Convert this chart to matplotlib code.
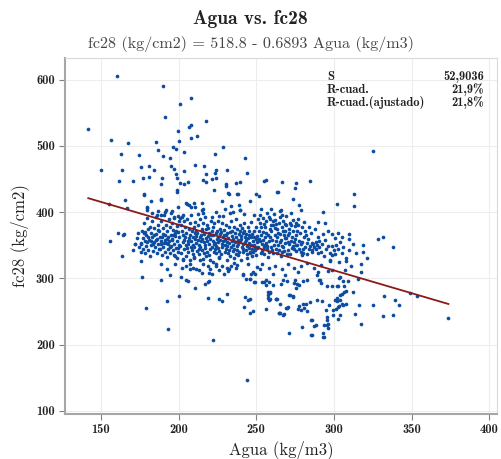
import matplotlib.pyplot as plt
import numpy as np

plt.rcParams['font.family'] = ['cmr10', 'DejaVu Serif']
plt.rcParams['axes.unicode_minus'] = False
plt.rcParams['axes.formatter.use_mathtext'] = False

# coeficientes del ajuste y estadisticos mostrados
intercept = 518.8
slope = -0.6893
stat_names = ['S', 'R-cuad.', 'R-cuad.(ajustado)']
stat_values = ['52,9036', '21,9%', '21,8%']

# puntos (Agua, fc28)
upper_pts = [(141.9, 525), (160.3, 606), (190, 590), (208.3, 573), (200.8, 564), (191.2, 543), (217.5, 538),
             (208.3, 531), (206.8, 528), (199.8, 522), (156.4, 509), (167.3, 504), (207.9, 512), (211.7, 515),
             (200.6, 508), (185.7, 506), (196.5, 499), (228.4, 498), (186.7, 494), (198.5, 495), (203.6, 491),
             (163, 487), (174.4, 486), (190, 485), (223.7, 488), (194.2, 481), (243, 481), (150.4, 463),
             (163.7, 464), (176, 468), (181.2, 469), (184, 463), (195, 469), (197.4, 465), (203.6, 462),
             (210.7, 471), (216.7, 470), (223.8, 463), (223.3, 459), (231, 464), (243.8, 459), (161.7, 447),
             (170.9, 447), (177, 451), (180.8, 453), (189.3, 452), (188.7, 443), (198.5, 457), (198.9, 451),
             (200.8, 444), (203.2, 442), (205.8, 445), (217.9, 457), (216, 448), (217.5, 446), (221.5, 450),
             (224, 452), (222.6, 434), (230.8, 440), (236.7, 444), (254.7, 447), (256, 449), (177.6, 427),
             (198.7, 430), (198.9, 434), (232.2, 427), (237.6, 427), (249.6, 428), (252, 424), (263.6, 430),
             (165.6, 418), (188.5, 419), (245.7, 417), (155.3, 412), (166.7, 406), (179.7, 406), (199.8, 408),
             (204.7, 414), (207.9, 408), (210.4, 407), (215.4, 403), (212.8, 397), (224.4, 400), (226, 394),
             (233.5, 409), (235, 400), (239.5, 403), (242, 397), (248.5, 395), (253.4, 405), (256.9, 399),
             (259.4, 405), (265.4, 402), (230.7, 442), (239.7, 446), (177.7, 426), (232, 429), (238.6, 428),
             (182, 416), (188.6, 420), (205.5, 412), (207, 410), (209.8, 414), (215.1, 413), (215.5, 405),
             (215.7, 399), (228, 417), (230, 404), (233, 398), (238.7, 411), (239.7, 403), (179.4, 408),
             (180, 403), (183, 398), (186, 396), (188.4, 395), (191, 400), (195, 398), (197, 393), (199.5, 394),
             (201, 391), (203, 396), (187, 402), (192, 403), (196, 402)]

right_pts = [(325.5, 492), (266.5, 445), (275.6, 444), (284.6, 447), (275, 437), (264, 430), (313.2, 428),
             (273.9, 420), (277.3, 411), (278.8, 403), (302, 412), (313.2, 409), (266, 403), (266.4, 396),
             (293, 400), (290, 385), (294.4, 384), (275.6, 383), (268.4, 382), (272.6, 380), (262.8, 382),
             (259, 390), (302.8, 368), (309.6, 367), (298.5, 367), (305.5, 362), (309.6, 359), (318.8, 350),
             (328.4, 359), (331.6, 363), (337.8, 348), (317.3, 322), (317.3, 309), (308.1, 326), (332.2, 273),
             (339.3, 267), (341.9, 260), (349, 278), (353.4, 273), (373.7, 240.5), (317.3, 231.5), (331.4, 243),
             (338.2, 244), (325, 260), (316, 260), (313.9, 246.5), (312.2, 280), (315.4, 299), (302.6, 345),
             (305, 338), (308, 331), (310, 342), (312, 352), (304, 355), (306, 348), (301, 336), (314, 338),
             (311, 318), (303, 325), (307, 312), (319, 340), (321, 330), (304, 302), (309, 296), (302, 288)]

left_pts = [(161, 369), (165, 367), (164.5, 365), (155.8, 356), (163.5, 334), (175.6, 326), (176.5, 302),
            (179, 254.5), (172.2, 351.5), (174.7, 347.5), (175.8, 353), (176, 340), (174, 368), (173, 361),
            (170.5, 342), (171.8, 352)]

low_pts = [(271.2, 217), (285.4, 215), (293, 217), (293.4, 211), (279.3, 227), (287.2, 228.4), (285.3, 237.4),
           (295.7, 237.4), (295.3, 230), (299.7, 245), (302.6, 238.4), (304, 245), (299.4, 251.5), (301.3, 253.5),
           (302.6, 256), (303, 258), (306, 259.6), (307.7, 260.6), (304, 266.7), (302.3, 265.6), (297, 259),
           (292.3, 266.2), (289, 266.7), (284.6, 264), (279, 252), (281, 255), (283, 250), (277, 254),
           (265.4, 247.5), (268, 246), (269.7, 255), (256.4, 254), (258.5, 267.7), (257.9, 269.7), (263, 269),
           (265.6, 260.6), (273.7, 272.7), (271.6, 274.7), (277.3, 257.6), (279.9, 261.7), (282.2, 261.7),
           (255.3, 294.4), (258.3, 294.4), (257.4, 279.3), (266, 292), (267.5, 297), (269.7, 295.5), (274.5, 293),
           (276, 291), (277.7, 290.5), (275, 297), (280.3, 296), (282.8, 297), (291, 297), (292, 293),
           (295.3, 288), (298.5, 288), (302.8, 288), (306.4, 288), (306, 296), (303, 300.5), (299, 312),
           (296, 311.7), (297.4, 325.7), (290.3, 297), (288.9, 304.5), (290, 309.5), (285.8, 214.8),
           (292.7, 211.3), (286, 236.8), (288.2, 229.3), (293.5, 229.3), (296, 230.3), (296, 224.3),
           (295.1, 252.8), (295.5, 241.7), (264.9, 247.7), (267.5, 245), (269.2, 255.3), (270.2, 256.8),
           (262.6, 269.3), (258.9, 278), (259.2, 269.3), (271.4, 274.3), (274, 271.8), (275.3, 286),
           (300.8, 266.8), (301.9, 270.3), (303.8, 274.3), (305, 276.8), (306.5, 279.4), (307.7, 280.4),
           (305, 261.8), (263.3, 268.7), (264.7, 247.5), (257.7, 275.3), (259, 279.3), (256.6, 289.4),
           (260.8, 289.4), (254, 294.4), (256.6, 297), (250.6, 317), (252.2, 313.8), (248.9, 295), (246.3, 299.5),
           (253.5, 322), (258, 316), (262, 319), (266.5, 314), (270.5, 321), (274.5, 316), (279, 319),
           (283, 323), (287, 315), (292, 320), (261, 307), (268.5, 305), (277, 310)]

mid_pts = [(242, 256.6), (245.7, 248), (247.8, 250), (244.6, 266.7), (245.7, 269.3), (243, 271), (219, 270),
           (225.8, 268), (227.7, 265.7), (231, 275.8), (210.7, 286), (216.9, 292), (219, 294.4), (219.6, 296),
           (201.9, 302.6), (205, 298), (206.2, 295.5), (194.6, 305.6), (189, 322), (192.3, 314.7), (188.8, 297),
           (192.7, 265), (200, 274), (193, 222.7), (222.2, 207), (243.8, 146.5), (241.4, 307), (249.5, 307),
           (237.6, 319.7), (232.2, 314.6), (229, 307), (221.6, 307), (219.4, 308.6), (214.9, 308.6), (211, 313.6),
           (207.2, 314.6), (202.4, 316), (207.7, 322.3), (223.8, 319), (231.2, 316.3), (197, 334.8),
           (241.4, 305.7), (243.6, 298.6), (246, 298.6), (246.6, 307), (247.7, 310), (244.4, 321), (249.3, 294.6),
           (210, 332), (214, 328), (218, 333), (222, 325), (226, 330), (216, 322), (219, 318), (224, 321),
           (209, 316), (213, 312), (220, 314), (228, 318), (234, 319), (236, 323), (237, 316), (232, 311),
           (226, 312), (205, 318), (203, 327), (199, 330), (198, 322)]

core_left_pts = [(176, 352), (176.4, 372), (177, 361), (177.3, 344), (178, 383), (178.2, 356), (178.6, 338),
                 (179, 366), (179.3, 349), (180, 391), (180.2, 375), (180.5, 343), (181, 358), (181.4, 334),
                 (182, 369), (182.3, 350), (182.6, 386), (183, 362), (183.4, 341), (184, 376), (184.3, 355),
                 (185, 347), (185.2, 367), (185.6, 392), (186, 338), (186.3, 359), (186.7, 381), (187, 352),
                 (187.4, 371), (188, 344), (188.2, 363), (188.6, 387), (189, 356), (189.3, 335), (189.7, 376),
                 (190, 348), (190.3, 367), (190.6, 395), (191, 358), (191.3, 340), (191.7, 381), (192, 353),
                 (192.4, 372), (192.7, 332), (193, 362), (193.3, 345), (193.6, 389), (194, 356), (194.4, 377),
                 (194.7, 338), (195, 366), (195.3, 349), (195.6, 384), (196, 359), (196.4, 342), (196.7, 373),
                 (197, 352), (197.3, 391), (197.6, 334), (198, 364), (198.4, 346), (198.7, 379), (199, 357),
                 (199.4, 340), (199.7, 370), (200, 351), (200.3, 386), (177.5, 368), (179.5, 355), (181.5, 378),
                 (183.5, 352), (185.5, 358), (187.5, 345), (189.5, 362), (191.5, 366), (193.5, 352), (195.5, 358),
                 (197.5, 368), (199.5, 346), (184.5, 365), (188.5, 352), (192.5, 360), (196.5, 365), (186.5, 373),
                 (190.5, 354), (194.5, 348), (198.5, 372), (182.5, 357), (180.5, 362), (178.5, 370)]

core_mid_pts = [(201.3, 338), (200.6, 362), (201.8, 381), (201.1, 349), (202.4, 371), (202.9, 355), (202.2, 393),
                (202.7, 329), (203.5, 344), (203.1, 366), (203.8, 358), (203.3, 386), (204.6, 351), (204.2, 377),
                (204.9, 334), (204.4, 362), (205.1, 369), (205.7, 346), (205.3, 390), (205.9, 357), (206.2, 339),
                (206.8, 361), (206.5, 374), (206.1, 352), (207.4, 383), (207.8, 348), (207.2, 365), (207.6, 327),
                (208.3, 356), (208.9, 371), (208.5, 342), (208.1, 395), (209.6, 363), (209.2, 336), (209.8, 378),
                (209.4, 350), (210.1, 347), (210.7, 368), (210.4, 359), (210.9, 385), (210.2, 331), (211.5, 372),
                (211.2, 354), (211.8, 341), (211.4, 364), (212.6, 358), (212.3, 380), (212.9, 345), (212.1, 369),
                (213.4, 337), (213.7, 362), (213.2, 351), (213.9, 389), (214.5, 366), (214.1, 348), (214.8, 375),
                (214.3, 356), (215.2, 343), (215.6, 384), (215.4, 360), (215.9, 329), (215.1, 371), (216.3, 355),
                (216.7, 367), (216.2, 338), (216.8, 392), (217.5, 374), (217.1, 350), (217.7, 361), (217.3, 346),
                (218.4, 340), (218.9, 364), (218.2, 381), (218.6, 357), (219.3, 369), (219.8, 352), (219.5, 335),
                (219.1, 376), (220.2, 359), (220.6, 386), (220.4, 345), (220.9, 366), (220.1, 327), (221.7, 348),
                (221.3, 372), (221.9, 356), (221.5, 392), (222.4, 365), (222.8, 339), (222.1, 378), (222.6, 352),
                (223.3, 354), (223.9, 368), (223.5, 345), (223.1, 383), (224.6, 371), (224.2, 338), (224.8, 360),
                (224.4, 349), (225.5, 346), (225.1, 363), (225.7, 387), (225.3, 355), (225.9, 332), (226.4, 358),
                (226.8, 375), (226.2, 341), (226.6, 367), (227.3, 337), (227.7, 352), (227.1, 370), (227.9, 384),
                (228.5, 362), (228.2, 347), (228.8, 356), (228.4, 394), (229.6, 351), (229.3, 373), (229.9, 339),
                (229.1, 366), (230.4, 366), (230.8, 344), (230.2, 358), (230.6, 380), (230.9, 328), (231.5, 355),
                (231.2, 369), (231.7, 338), (231.3, 349), (232.6, 342), (232.1, 361), (232.8, 377), (232.4, 353),
                (233.3, 370), (233.7, 348), (233.1, 333), (233.9, 386), (234.5, 356), (234.2, 364), (234.8, 341),
                (234.4, 372), (235.6, 345), (235.2, 359), (235.8, 378), (235.4, 331), (235.1, 351), (236.3, 368),
                (236.7, 337), (236.5, 355), (236.9, 389), (237.4, 349), (237.2, 363), (237.8, 374), (237.6, 343),
                (238.5, 358), (238.1, 335), (238.7, 367), (238.3, 352), (239.2, 340), (239.8, 372), (239.4, 356),
                (239.6, 381), (240.3, 364), (240.7, 347), (240.1, 328), (240.5, 359), (240.9, 376), (241.4, 352),
                (241.8, 368), (241.2, 339), (241.6, 345), (242.3, 371), (242.7, 355), (242.5, 362), (242.1, 384),
                (243.6, 343), (243.2, 358), (243.8, 336), (243.4, 367), (244.5, 361), (244.1, 349), (244.7, 377),
                (244.3, 330), (245.2, 354), (245.8, 340), (245.4, 366), (245.6, 372), (245.1, 346), (246.3, 338),
                (246.7, 362), (246.5, 350), (246.9, 385), (247.4, 367), (247.2, 345), (247.8, 357), (247.6, 333),
                (248.3, 351), (248.7, 371), (248.1, 340), (248.5, 362), (249.6, 359), (249.2, 343), (249.8, 378),
                (249.4, 348), (250.3, 346), (250.7, 364), (250.1, 335), (250.5, 355)]

core_right_pts = [(251.3, 348), (251.7, 372), (251.1, 389), (251.5, 360), (252.4, 357), (252.8, 338), (252.2, 384),
                  (252.6, 396), (253.5, 341), (253.1, 366), (253.7, 352), (253.3, 378), (254.6, 370), (254.2, 391),
                  (254.8, 347), (254.4, 358), (255.3, 336), (255.7, 362), (255.1, 382), (255.5, 350), (255.9, 378),
                  (256.4, 353), (256.8, 344), (256.2, 387), (256.6, 368), (257.3, 365), (257.7, 332), (257.1, 349),
                  (258.5, 340), (258.1, 357), (258.7, 374), (258.3, 393), (259.4, 348), (259.8, 380), (259.2, 362),
                  (259.6, 371), (260.3, 358), (260.7, 386), (260.1, 343), (260.5, 381), (260.9, 338), (261.4, 397),
                  (261.8, 366), (261.2, 350), (262.5, 345), (262.1, 376), (262.7, 357), (262.3, 388), (263.6, 362),
                  (263.2, 338), (263.8, 369), (263.4, 374), (264.5, 383), (264.1, 351), (264.7, 342), (265.3, 355),
                  (265.7, 334), (265.1, 367), (265.5, 392), (266.4, 339), (266.8, 377), (266.2, 358), (266.6, 349),
                  (267.3, 348), (267.7, 365), (267.1, 386), (267.5, 371), (268.4, 361), (268.8, 354), (268.2, 341),
                  (268.6, 372), (269.3, 361), (269.7, 337), (269.1, 394), (269.5, 380), (270.4, 343), (270.8, 369),
                  (270.2, 355), (270.6, 366), (271.5, 336), (271.1, 352), (271.7, 384), (271.3, 375), (272.6, 357),
                  (272.2, 398), (272.8, 346), (273.4, 372), (273.8, 349), (273.2, 363), (273.6, 388), (274.3, 344),
                  (274.7, 379), (274.1, 355), (275.5, 366), (275.1, 360), (275.7, 341), (275.3, 350), (276.4, 351),
                  (276.8, 390), (276.2, 371), (277.3, 345), (277.7, 356), (277.1, 381), (278.6, 340), (278.2, 368),
                  (278.8, 352), (279.4, 355), (279.8, 335), (279.2, 377), (280.5, 385), (280.1, 344), (280.7, 362),
                  (280.3, 338), (281.6, 348), (281.2, 372), (282.4, 336), (282.8, 353), (282.2, 366), (283.5, 359),
                  (283.7, 345), (284.3, 378), (284.7, 349), (285.6, 342), (285.8, 354), (285.4, 368), (286.3, 352),
                  (286.1, 339), (287.1, 348), (287.7, 374), (288.4, 344), (288.2, 355), (289.5, 362), (289.1, 350),
                  (290.3, 347), (290.5, 356), (290.1, 338), (291.6, 339), (292.2, 352), (292.8, 367), (293.4, 333),
                  (294.1, 358), (294.7, 345), (295.9, 349), (296.4, 372), (297.2, 327), (297.8, 338), (298.5, 335),
                  (299.1, 349), (300.3, 342), (300.8, 361), (301.4, 351)]

pts = np.array(upper_pts + right_pts + left_pts + low_pts + mid_pts
               + core_left_pts + core_mid_pts + core_right_pts)
agua = pts[:, 0]
fc28 = pts[:, 1]

fig = plt.figure(figsize=(5.01, 4.59), dpi=100)
ax = fig.add_axes([0.13, 0.098, 0.862, 0.776])

ax.grid(True, color='#ededed', linewidth=0.8)
ax.set_axisbelow(True)
ax.scatter(agua, fc28, s=7, color='#0d4c9e', linewidths=0, zorder=3)

x_line = np.array([agua.min(), agua.max()])
ax.plot(x_line, intercept + slope * x_line, color='#8b1a1a', linewidth=1.3, zorder=4)

ax.set_xlim(127, 405)
ax.set_ylim(95, 633)
ax.set_xticks([150, 200, 250, 300, 350, 400])
ax.set_yticks([100, 200, 300, 400, 500, 600])

for side in ['top', 'right']:
    ax.spines[side].set_color('#d9d9d9')
    ax.spines[side].set_linewidth(0.8)
for side in ['left', 'bottom']:
    ax.spines[side].set_color('#a6a6a6')
    ax.spines[side].set_linewidth(1.5)
ax.tick_params(colors='#808080', length=4, width=0.8, labelcolor='#222222')
for lab in ax.get_xticklabels() + ax.get_yticklabels():
    lab.set_fontfamily(['cmb10', 'DejaVu Serif'])
    lab.set_fontsize(9)

ax.set_xlabel('Agua (kg/m3)', fontsize=12, color='#222222', labelpad=3)
ax.set_ylabel('fc28 (kg/cm2)', fontsize=12, color='#222222', labelpad=5)

fig.text(0.5, 0.958, 'Agua vs. fc28', ha='center', va='center', fontsize=14,
         family=['cmb10', 'DejaVu Serif'], color='#222222')
fig.text(0.5, 0.904, 'fc28 (kg/cm2) = 518.8 - 0.6893 Agua (kg/m3)', ha='center', va='center',
         fontsize=11.6, color='#444444')

for i, (name, val) in enumerate(zip(stat_names, stat_values)):
    yy = 0.947 - i * 0.036
    ax.text(0.606, yy, name, transform=ax.transAxes, ha='left', va='center', fontsize=9,
            family=['cmb10', 'DejaVu Serif'], color='#222222')
    ax.text(0.970, yy, val, transform=ax.transAxes, ha='right', va='center', fontsize=9,
            family=['cmb10', 'DejaVu Serif'], color='#222222')

fig.savefig('out.png', dpi=100)
